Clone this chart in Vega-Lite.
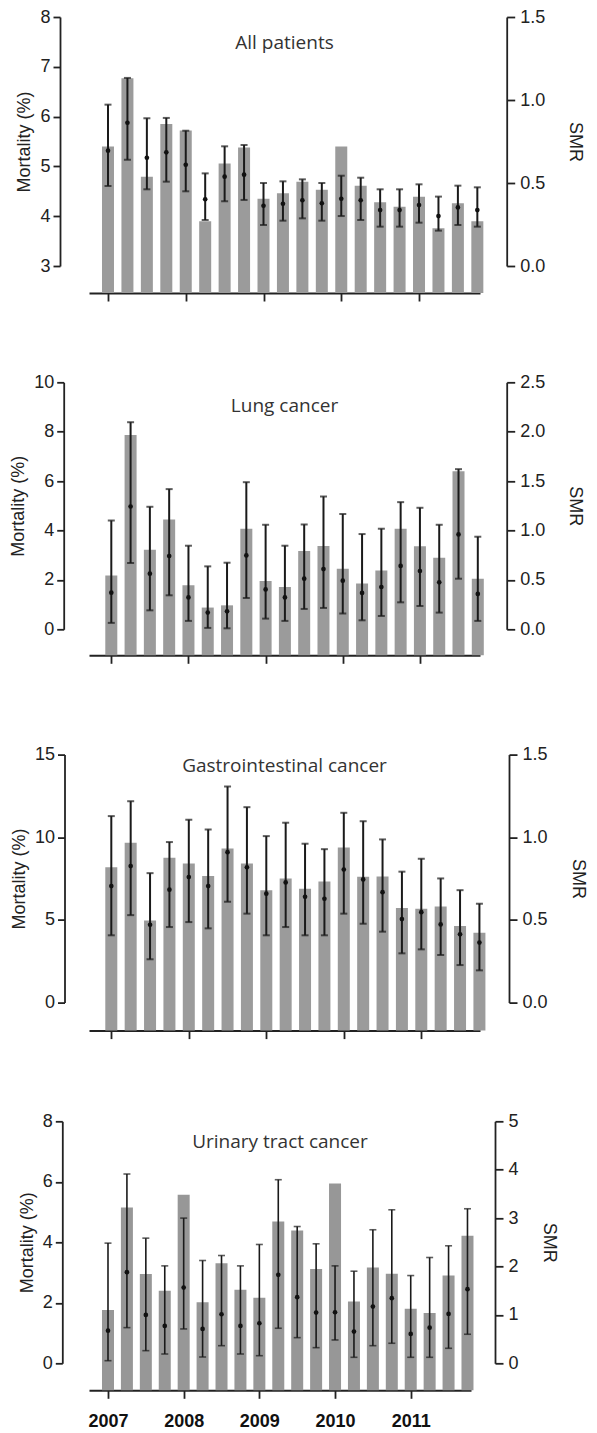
{
  "$schema": "https://vega.github.io/schema/vega-lite/v6.json",
  "padding": {"left": 9, "top": 8, "right": 6, "bottom": 0},
  "background": "white",
  "datasets": {
    "allp": [
      {"q":0,"mort":5.40,"smr":0.695,"lo":0.482,"hi":0.972},
      {"q":1,"mort":6.77,"smr":0.863,"lo":0.640,"hi":1.133},
      {"q":2,"mort":4.79,"smr":0.652,"lo":0.462,"hi":0.890},
      {"q":3,"mort":5.85,"smr":0.685,"lo":0.508,"hi":0.892},
      {"q":4,"mort":5.72,"smr":0.610,"lo":0.450,"hi":0.815},
      {"q":5,"mort":3.90,"smr":0.402,"lo":0.277,"hi":0.558},
      {"q":6,"mort":5.06,"smr":0.538,"lo":0.390,"hi":0.721},
      {"q":7,"mort":5.38,"smr":0.550,"lo":0.398,"hi":0.729},
      {"q":8,"mort":4.35,"smr":0.363,"lo":0.247,"hi":0.500},
      {"q":9,"mort":4.46,"smr":0.375,"lo":0.273,"hi":0.510},
      {"q":10,"mort":4.69,"smr":0.396,"lo":0.287,"hi":0.522},
      {"q":11,"mort":4.53,"smr":0.378,"lo":0.273,"hi":0.500},
      {"q":12,"mort":5.40,"smr":0.405,"lo":0.301,"hi":0.544},
      {"q":13,"mort":4.61,"smr":0.396,"lo":0.277,"hi":0.532},
      {"q":14,"mort":4.28,"smr":0.337,"lo":0.237,"hi":0.462},
      {"q":15,"mort":4.19,"smr":0.337,"lo":0.237,"hi":0.462},
      {"q":16,"mort":4.39,"smr":0.367,"lo":0.261,"hi":0.492},
      {"q":17,"mort":3.76,"smr":0.301,"lo":0.213,"hi":0.418},
      {"q":18,"mort":4.26,"smr":0.353,"lo":0.247,"hi":0.484},
      {"q":19,"mort":3.90,"smr":0.337,"lo":0.237,"hi":0.474}
    ],
    "lung": [
      {"q":0,"mort":2.18,"smr":0.371,"lo":0.065,"hi":1.101},
      {"q":1,"mort":7.87,"smr":1.243,"lo":0.671,"hi":2.096},
      {"q":2,"mort":3.22,"smr":0.563,"lo":0.192,"hi":1.240},
      {"q":3,"mort":4.45,"smr":0.742,"lo":0.344,"hi":1.419},
      {"q":4,"mort":1.78,"smr":0.323,"lo":0.085,"hi":0.846},
      {"q":5,"mort":0.88,"smr":0.169,"lo":0.014,"hi":0.637},
      {"q":6,"mort":0.97,"smr":0.182,"lo":0.010,"hi":0.674},
      {"q":7,"mort":4.07,"smr":0.748,"lo":0.317,"hi":1.489},
      {"q":8,"mort":1.96,"smr":0.404,"lo":0.108,"hi":1.058},
      {"q":9,"mort":1.71,"smr":0.323,"lo":0.085,"hi":0.846},
      {"q":10,"mort":3.17,"smr":0.512,"lo":0.206,"hi":1.061},
      {"q":11,"mort":3.37,"smr":0.610,"lo":0.216,"hi":1.344},
      {"q":12,"mort":2.45,"smr":0.492,"lo":0.159,"hi":1.166},
      {"q":13,"mort":1.85,"smr":0.368,"lo":0.091,"hi":0.964},
      {"q":14,"mort":2.38,"smr":0.428,"lo":0.135,"hi":1.018},
      {"q":15,"mort":4.07,"smr":0.641,"lo":0.273,"hi":1.287},
      {"q":16,"mort":3.36,"smr":0.590,"lo":0.236,"hi":1.230},
      {"q":17,"mort":2.90,"smr":0.475,"lo":0.169,"hi":1.058},
      {"q":18,"mort":6.40,"smr":0.960,"lo":0.512,"hi":1.621},
      {"q":19,"mort":2.05,"smr":0.358,"lo":0.085,"hi":0.937}
    ],
    "gi": [
      {"q":0,"mort":8.19,"smr":0.705,"lo":0.407,"hi":1.128},
      {"q":1,"mort":9.67,"smr":0.826,"lo":0.529,"hi":1.218},
      {"q":2,"mort":4.97,"smr":0.471,"lo":0.262,"hi":0.783},
      {"q":3,"mort":8.76,"smr":0.683,"lo":0.457,"hi":0.971},
      {"q":4,"mort":8.42,"smr":0.759,"lo":0.487,"hi":1.106},
      {"q":5,"mort":7.65,"smr":0.705,"lo":0.449,"hi":1.047},
      {"q":6,"mort":9.32,"smr":0.910,"lo":0.610,"hi":1.307},
      {"q":7,"mort":8.42,"smr":0.818,"lo":0.538,"hi":1.182},
      {"q":8,"mort":6.79,"smr":0.659,"lo":0.407,"hi":1.007},
      {"q":9,"mort":7.51,"smr":0.727,"lo":0.457,"hi":1.088},
      {"q":10,"mort":6.89,"smr":0.640,"lo":0.407,"hi":0.961},
      {"q":11,"mort":7.33,"smr":0.628,"lo":0.407,"hi":0.928},
      {"q":12,"mort":9.38,"smr":0.805,"lo":0.538,"hi":1.148},
      {"q":13,"mort":7.61,"smr":0.745,"lo":0.477,"hi":1.097},
      {"q":14,"mort":7.63,"smr":0.668,"lo":0.429,"hi":0.987},
      {"q":15,"mort":5.72,"smr":0.505,"lo":0.298,"hi":0.792},
      {"q":16,"mort":5.68,"smr":0.547,"lo":0.322,"hi":0.870},
      {"q":17,"mort":5.82,"smr":0.473,"lo":0.288,"hi":0.751},
      {"q":18,"mort":4.63,"smr":0.413,"lo":0.227,"hi":0.680},
      {"q":19,"mort":4.23,"smr":0.363,"lo":0.195,"hi":0.598}
    ],
    "uti": [
      {"q":0,"mort":1.76,"smr":0.675,"lo":0.054,"hi":2.483},
      {"q":1,"mort":5.15,"smr":1.883,"lo":0.737,"hi":3.911},
      {"q":2,"mort":2.95,"smr":1.000,"lo":0.261,"hi":2.586},
      {"q":3,"mort":2.40,"smr":0.772,"lo":0.192,"hi":2.013},
      {"q":4,"mort":5.57,"smr":1.564,"lo":0.710,"hi":3.000},
      {"q":5,"mort":2.02,"smr":0.710,"lo":0.130,"hi":2.124},
      {"q":6,"mort":3.31,"smr":1.014,"lo":0.364,"hi":2.227},
      {"q":7,"mort":2.43,"smr":0.772,"lo":0.192,"hi":2.013},
      {"q":8,"mort":2.17,"smr":0.828,"lo":0.157,"hi":2.455},
      {"q":9,"mort":4.69,"smr":1.827,"lo":0.724,"hi":3.793},
      {"q":10,"mort":4.39,"smr":1.366,"lo":0.530,"hi":2.826},
      {"q":11,"mort":3.12,"smr":1.048,"lo":0.323,"hi":2.469},
      {"q":12,"mort":5.94,"smr":1.055,"lo":0.482,"hi":2.013},
      {"q":13,"mort":2.04,"smr":0.655,"lo":0.124,"hi":1.903},
      {"q":14,"mort":3.17,"smr":1.172,"lo":0.364,"hi":2.759},
      {"q":15,"mort":2.96,"smr":1.345,"lo":0.414,"hi":3.172},
      {"q":16,"mort":1.80,"smr":0.607,"lo":0.124,"hi":1.813},
      {"q":17,"mort":1.66,"smr":0.737,"lo":0.124,"hi":2.186},
      {"q":18,"mort":2.90,"smr":1.021,"lo":0.310,"hi":2.428},
      {"q":19,"mort":4.22,"smr":1.531,"lo":0.600,"hi":3.193}
    ]
  },
  "spacing": 80.6,
  "resolve": {"scale": {"x": "independent", "y": "independent"}},
  "vconcat": [
    {
      "spacing": 71.3,
      "resolve": {"scale": {"x": "independent", "y": "independent"}},
      "vconcat": [
        {
          "data": {"name": "allp"},
          "width": 391, "height": 249,
          "title": {"text": "All patients", "offset": -53.7, "baseline": "middle", "frame": "group"},
          "encoding": {
            "x": {"field": "q", "type": "quantitative", "scale": {"domain": [-0.977, 19.137], "nice": false, "zero": false, "padding": 0},
                  "axis": {"values": [0,4,8,12,16], "labels": false, "offset": 27, "title": null}}
          },
          "layer": [
            {"mark": {"type": "bar", "color": "#9b9b9b", "width": 12},
             "encoding": {
               "y": {"field": "mort", "type": "quantitative", "scale": {"domain": [3, 8], "nice": false, "zero": false},
                     "axis": {"orient": "left", "values": [3,4,5,6,7,8], "title": "Mortality (%)", "offset": 29}},
               "y2": {"datum": 2.458}
             }},
            {"encoding": {
               "y": {"field": "lo", "type": "quantitative", "scale": {"domain": [0, 1.5], "nice": false, "zero": false},
                     "axis": {"orient": "right", "values": [0,0.5,1,1.5], "format": ".1f", "title": "SMR", "offset": 26.7}},
               "y2": {"field": "hi"}
             },
             "layer": [
              {"mark": {"type": "errorbar", "color": "#1a1a1a", "thickness": 2, "ticks": {"size": 7, "thickness": 2, "color": "#1a1a1a"}}},
              {"mark": {"type": "point", "filled": true, "color": "#111111", "size": 22, "opacity": 1},
               "encoding": {"y": {"field": "smr", "type": "quantitative"}, "y2": null}}
             ]}
          ],
          "resolve": {"scale": {"y": "independent"}}
        },
        {
          "data": {"name": "lung"},
          "width": 391, "height": 247,
          "title": {"text": "Lung cancer", "offset": -52, "baseline": "middle", "frame": "group"},
          "encoding": {
            "x": {"field": "q", "type": "quantitative", "scale": {"domain": [-1.156, 19.114], "nice": false, "zero": false, "padding": 0},
                  "axis": {"values": [0,4,8,12,16], "labels": false, "offset": 26, "title": null}}
          },
          "layer": [
            {"mark": {"type": "bar", "color": "#9b9b9b", "width": 12},
             "encoding": {
               "y": {"field": "mort", "type": "quantitative", "scale": {"domain": [0, 10], "nice": false, "zero": false},
                     "axis": {"orient": "left", "values": [0,2,4,6,8,10], "title": "Mortality (%)", "offset": 25.3}},
               "y2": {"datum": -1.053}
             }},
            {"encoding": {
               "y": {"field": "lo", "type": "quantitative", "scale": {"domain": [0, 2.5], "nice": false, "zero": false},
                     "axis": {"orient": "right", "values": [0,0.5,1,1.5,2,2.5], "format": ".1f", "title": "SMR", "offset": 26.7}},
               "y2": {"field": "hi"}
             },
             "layer": [
              {"mark": {"type": "errorbar", "color": "#1a1a1a", "thickness": 2, "ticks": {"size": 7, "thickness": 2, "color": "#1a1a1a"}}},
              {"mark": {"type": "point", "filled": true, "color": "#111111", "size": 22, "opacity": 1},
               "encoding": {"y": {"field": "smr", "type": "quantitative"}, "y2": null}}
             ]}
          ],
          "resolve": {"scale": {"y": "independent"}}
        }
      ]
    },
    {
      "spacing": 72.7,
      "resolve": {"scale": {"x": "independent", "y": "independent"}},
      "vconcat": [
        {
          "data": {"name": "gi"},
          "width": 391, "height": 248,
          "title": {"text": "Gastrointestinal cancer", "offset": -39, "baseline": "middle", "frame": "group"},
          "encoding": {
            "x": {"field": "q", "type": "quantitative", "scale": {"domain": [-1.151, 19.03], "nice": false, "zero": false, "padding": 0},
                  "axis": {"values": [0,4,8,12,16], "labels": false, "offset": 28, "title": null}}
          },
          "layer": [
            {"mark": {"type": "bar", "color": "#9b9b9b", "width": 12},
             "encoding": {
               "y": {"field": "mort", "type": "quantitative", "scale": {"domain": [0, 15], "nice": false, "zero": false},
                     "axis": {"orient": "left", "values": [0,5,10,15], "title": "Mortality (%)", "offset": 24.5}},
               "y2": {"datum": -1.69}
             }},
            {"encoding": {
               "y": {"field": "lo", "type": "quantitative", "scale": {"domain": [0, 1.5], "nice": false, "zero": false},
                     "axis": {"orient": "right", "values": [0,0.5,1,1.5], "format": ".1f", "title": "SMR", "offset": 29}},
               "y2": {"field": "hi"}
             },
             "layer": [
              {"mark": {"type": "errorbar", "color": "#1a1a1a", "thickness": 2, "ticks": {"size": 7, "thickness": 2, "color": "#1a1a1a"}}},
              {"mark": {"type": "point", "filled": true, "color": "#111111", "size": 22, "opacity": 1},
               "encoding": {"y": {"field": "smr", "type": "quantitative"}, "y2": null}}
             ]}
          ],
          "resolve": {"scale": {"y": "independent"}}
        },
        {
          "data": {"name": "uti"},
          "width": 382, "height": 242,
          "title": {"text": "Urinary tract cancer", "offset": -49, "baseline": "middle", "frame": "group"},
          "encoding": {
            "x": {"field": "q", "type": "quantitative", "scale": {"domain": [-1.004, 19.186], "nice": false, "zero": false, "padding": 0},
                  "axis": {"values": [0,4,8,12,16], "labels": true, "labelExpr": "'' + (2007 + datum.value / 4)", "offset": 27, "title": null}}
          },
          "layer": [
            {"mark": {"type": "bar", "color": "#979797", "width": 12},
             "encoding": {
               "y": {"field": "mort", "type": "quantitative", "scale": {"domain": [0, 8], "nice": false, "zero": false},
                     "axis": {"orient": "left", "values": [0,2,4,6,8], "title": "Mortality (%)", "offset": 26.7}},
               "y2": {"datum": -0.89}
             }},
            {"encoding": {
               "y": {"field": "lo", "type": "quantitative", "scale": {"domain": [0, 5], "nice": false, "zero": false},
                     "axis": {"orient": "right", "values": [0,1,2,3,4,5], "format": "d", "title": "SMR", "offset": 24}},
               "y2": {"field": "hi"}
             },
             "layer": [
              {"mark": {"type": "errorbar", "color": "#1a1a1a", "thickness": 1.6, "ticks": {"size": 7, "thickness": 1.6, "color": "#1a1a1a"}}},
              {"mark": {"type": "point", "filled": true, "color": "#111111", "size": 22, "opacity": 1},
               "encoding": {"y": {"field": "smr", "type": "quantitative"}, "y2": null}}
             ]}
          ],
          "resolve": {"scale": {"y": "independent"}}
        }
      ]
    }
  ],
  "config": {
    "view": {"stroke": null},
    "axis": {
      "grid": false,
      "labelFont": "Liberation Sans", "labelFontSize": 18, "labelColor": "#222222",
      "titleFont": "Liberation Sans", "titleFontSize": 18, "titleFontWeight": "normal", "titleColor": "#222222",
      "domainColor": "#222222", "tickColor": "#222222",
      "domainWidth": 1.8, "tickWidth": 1.8, "tickSize": 7, "labelPadding": 3
    },
    "axisLeft": {"titlePadding": 6},
    "axisRight": {"titlePadding": 21, "labelPadding": 5, "tickSize": 8},
    "axisBottom": {"tickSize": 8, "domainWidth": 2, "labelFontWeight": "bold", "labelColor": "#111111", "labelPadding": 14, "labelFlush": false},
    "title": {"font": "Open Sans", "fontSize": 19, "fontWeight": "normal", "color": "#333333", "anchor": "middle"}
  }
}
